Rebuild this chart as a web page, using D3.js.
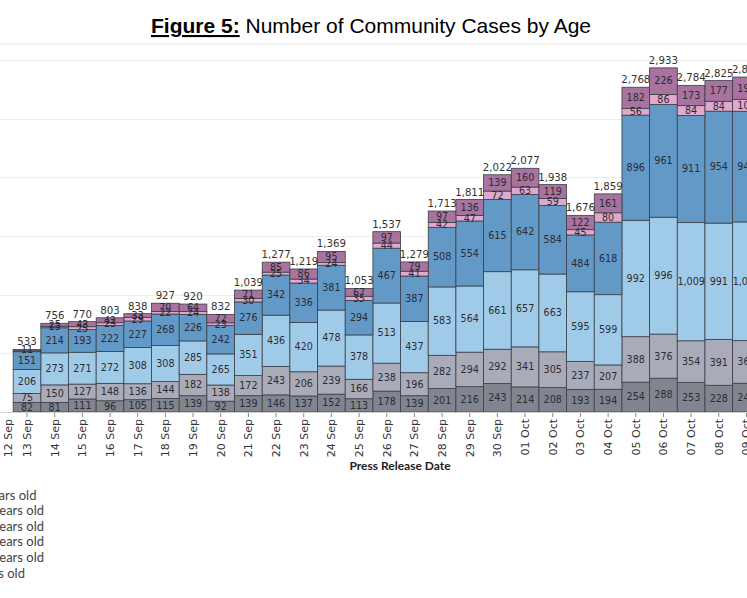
<!DOCTYPE html>
<html>
<head>
<meta charset="utf-8">
<script src="https://cdn.jsdelivr.net/npm/d3@7"></script>
<style>
  html, body { margin: 0; padding: 0; background: #fff; }
  svg { display: block; }
</style>
</head>
<body>
<svg id="chart" width="747" height="598"></svg>
<script>
// ---------- DATA ----------
const categories = ["12 Sep","13 Sep","14 Sep","15 Sep","16 Sep","17 Sep","18 Sep","19 Sep","20 Sep",
  "21 Sep","22 Sep","23 Sep","24 Sep","25 Sep","26 Sep","27 Sep","28 Sep","29 Sep","30 Sep",
  "01 Oct","02 Oct","03 Oct","04 Oct","05 Oct","06 Oct","07 Oct","08 Oct","09 Oct"];

const seriesNames = ["0 - 11 years old","12 - 19 years old","20 - 39 years old","40 - 59 years old","60 - 69 years old","70+ years old"];

const age0to11  = [0, 82, 81,111, 96,105,115,139, 92,139,146,137,152,113,178,139,201,216,243,214,208,193,194,254,288,253,228,245];
const age12to19 = [0, 75,150,127,148,136,144,182,138,172,243,206,239,166,238,196,282,294,292,341,305,237,207,388,376,354,391,363];
const age20to39 = [0,206,273,271,272,308,308,285,265,351,436,420,478,378,513,437,583,564,661,657,663,595,599,992,996,1009,991,1012];
const age40to59 = [0,151,214,193,222,227,268,226,242,276,342,336,381,294,467,387,508,554,615,642,584,484,618,896,961,911,954,943];
const age60to69 = [0,  8, 13, 25, 23, 29, 22, 24, 23, 30, 25, 34, 24, 35, 44, 41, 42, 47, 72, 63, 59, 45, 80, 56, 86, 84, 84,102];
const age70plus = [0, 11, 25, 43, 42, 33, 70, 64, 72, 71, 85, 86, 95, 67, 97, 79, 97,136,139,160,119,122,161,182,226,173,177,190];

const yTicks = [500, 1000, 1500, 2000, 2500, 3000];
const seriesColors = ["#80858f","#a9acb8","#a0cbe8","#6399c6","#e0a8cc","#a8739f"];

// ---------- BUILD ----------
const seriesArrays = [age0to11, age12to19, age20to39, age40to59, age60to69, age70plus];
const table = categories.map((c, i) => {
  const row = { date: c };
  seriesNames.forEach((s, k) => row[s] = seriesArrays[k][i]);
  return row;
});

const svg = d3.select("#chart");
const W = 747, H = 598;

const x = d3.scaleBand().domain(categories).range([-14.5, 760.3]).paddingInner(0).paddingOuter(0);
const y = d3.scaleLinear().domain([0, 3000]).range([412, 60]);

// title
const title = svg.append("text")
  .attr("x", 371).attr("y", 33)
  .attr("text-anchor", "middle")
  .style("font-family", "'Liberation Sans', Arial, sans-serif")
  .style("font-size", "21px")
  .attr("fill", "#000");
title.append("tspan").text("Figure 5:").style("font-weight", "bold").style("text-decoration", "underline");
title.append("tspan").text(" Number of Community Cases by Age");

// separator under title
svg.append("line").attr("x1", 0).attr("x2", W).attr("y1", 44).attr("y2", 44)
  .attr("stroke", "#e4e4e4").attr("stroke-width", 1);

// gridlines
svg.append("g").selectAll("line").data(yTicks).join("line")
  .attr("x1", 0).attr("x2", W)
  .attr("y1", d => Math.round(y(d)) + 0.5).attr("y2", d => Math.round(y(d)) + 0.5)
  .attr("stroke", "#ececec").attr("stroke-width", 1);

// stack
const stack = d3.stack().keys(seriesNames);
const stacked = stack(table);

const g = svg.append("g");
stacked.forEach((layer, k) => {
  g.append("g").selectAll("rect").data(layer).join("rect")
    .attr("x", d => x(d.data.date))
    .attr("width", x.bandwidth())
    .attr("y", d => y(d[1]))
    .attr("height", d => Math.max(0, y(d[0]) - y(d[1])))
    .attr("fill", seriesColors[k])
    .attr("stroke", d => (d[1] - d[0]) > 0 ? "#3b3f47" : "none")
    .attr("stroke-width", 0.8);
});

// segment labels
const fmt = d3.format(",");
stacked.forEach((layer, k) => {
  g.append("g").selectAll("text").data(layer.filter(d => (d[1] - d[0]) >= 11)).join("text")
    .attr("x", d => x(d.data.date) + x.bandwidth() / 2)
    .attr("y", d => (y(d[0]) + y(d[1])) / 2)
    .attr("dy", "0.35em")
    .attr("text-anchor", "middle")
    .style("font-family", "'DejaVu Sans', Verdana, sans-serif")
    .style("font-size", "9.6px")
    .attr("fill", "#2b2b33")
    .text(d => fmt(d[1] - d[0]));
});

// totals
const totals = table.map(r => ({ date: r.date, total: d3.sum(seriesNames, s => r[s]) }));
g.append("g").selectAll("text").data(totals.filter(d => d.total > 0)).join("text")
  .attr("x", d => x(d.date) + x.bandwidth() / 2)
  .attr("y", d => y(d.total) - 4)
  .attr("text-anchor", "middle")
  .style("font-family", "'DejaVu Sans', Verdana, sans-serif")
  .style("font-size", "10.2px")
  .attr("fill", "#333")
  .text(d => fmt(d.total));

// baseline
svg.append("line").attr("x1", 0).attr("x2", W).attr("y1", y(0) + 0.5).attr("y2", y(0) + 0.5)
  .attr("stroke", "#d0d0d0").attr("stroke-width", 1);

// x axis
const xAxis = d3.axisBottom(x).tickSize(4).tickSizeOuter(0);
const ax = svg.append("g").attr("transform", `translate(0,${y(0) + 1})`).call(xAxis);
ax.select(".domain").remove();
ax.selectAll(".tick line").attr("stroke", "#888");
ax.selectAll(".tick text")
  .style("font-family", "'DejaVu Sans', Verdana, sans-serif")
  .style("font-size", "11px")
  .attr("fill", "#333")
  .attr("text-anchor", "end")
  .attr("transform", (d, i) => `translate(${i === 0 ? 9 : 0},0) rotate(-90)`)
  .attr("x", -6).attr("y", 0).attr("dy", "0.35em");

// axis title
svg.append("text")
  .attr("x", 400).attr("y", 470)
  .attr("text-anchor", "middle")
  .style("font-family", "Lato, 'Open Sans', sans-serif")
  .style("font-weight", "bold")
  .style("font-size", "12px")
  .attr("fill", "#222")
  .text("Press Release Date");

// legend (left-aligned, extends past left edge like the reference)
const legendG = svg.append("g");
const probe = legendG.append("text")
  .style("font-family", "Lato, sans-serif").style("font-size", "13px")
  .text(seriesNames[1]);
const refLen = probe.node().getComputedTextLength();
probe.remove();
const legendX = 44 - refLen;
const legendY = d3.scaleLinear().domain([0, seriesNames.length - 1]).range([495, 573]);
legendG.selectAll("text").data(seriesNames).join("text")
  .attr("x", legendX)
  .attr("y", (d, i) => legendY(i))
  .attr("dy", "0.35em")
  .style("font-family", "Lato, sans-serif")
  .style("font-size", "13px")
  .attr("fill", "#444")
  .text(d => d);
</script>
</body>
</html>
